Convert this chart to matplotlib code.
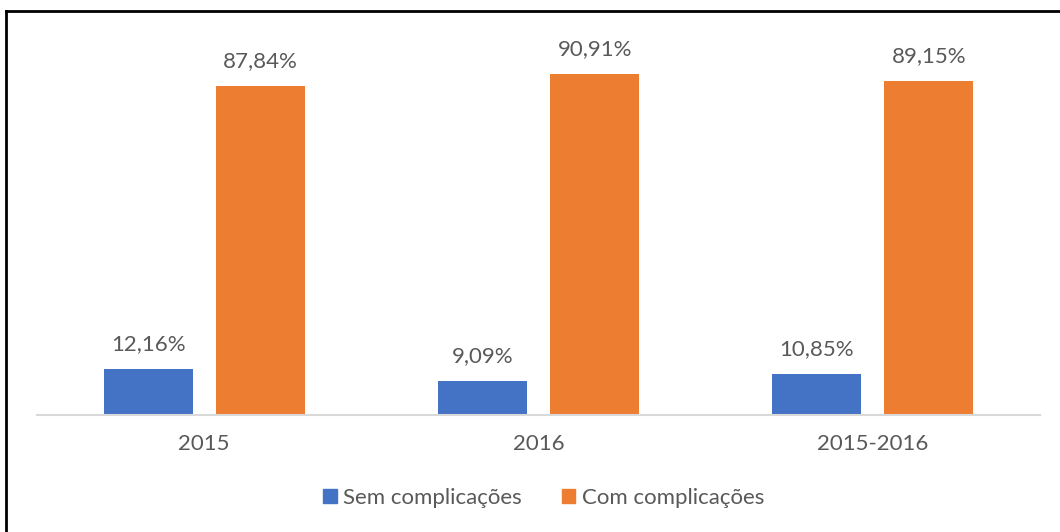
import numpy as np
from matplotlib import pyplot as plt
from matplotlib.lines import Line2D

categories = ["2015", "2016", "2015-2016"]
sem = [12.16, 9.09, 10.85]
com = [87.84, 90.91, 89.15]
series_names = ["Sem complicações", "Com complicações"]
colors = ["#4472C4", "#ED7D31"]

plt.rcParams['font.family'] = ['Lato', 'DejaVu Sans']
text_color = '#595959'

fig = plt.figure(figsize=(10.6, 5.32), dpi=100)
ax = fig.add_axes([0.035, 0.22, 0.946, 0.704])

x = np.arange(len(categories))
w = 0.266
off = 0.168
for vals, dx, c in [(sem, -off, colors[0]), (com, off, colors[1])]:
    bars = ax.bar(x + dx, vals, width=w, color=c)
    for b, v in zip(bars, vals):
        ax.annotate(f"{v:.2f}%".replace('.', ','),
                    (b.get_x() + b.get_width() / 2, b.get_height()),
                    xytext=(0, 11), textcoords='offset points',
                    ha='center', va='bottom', fontsize=16, color=text_color)

ax.set_xlim(-0.5, 2.5)
ax.set_ylim(0, 100)
ax.set_xticks(x)
ax.set_xticklabels(categories, fontsize=16, color=text_color)
ax.tick_params(axis='x', length=0, pad=14)
ax.set_yticks([])
for s in ['top', 'right', 'left']:
    ax.spines[s].set_visible(False)
ax.spines['bottom'].set_color('#D9D9D9')
ax.spines['bottom'].set_linewidth(1.5)

handles = [plt.Rectangle((0, 0), 1, 1, color=c) for c in colors]
leg = fig.legend(handles, series_names, loc='center', bbox_to_anchor=(0.513, 0.064),
                 ncol=2, frameon=False, fontsize=16, handlelength=0.6,
                 handleheight=0.6, handletextpad=0.3, columnspacing=1.8)
for t in leg.get_texts():
    t.set_color(text_color)

# frame: top and left edges only
fig.add_artist(Line2D([6 / 1060, 1], [1 - 11 / 532, 1 - 11 / 532],
                      transform=fig.transFigure, color='black', lw=2))
fig.add_artist(Line2D([6 / 1060, 6 / 1060], [0, 1 - 11 / 532],
                      transform=fig.transFigure, color='black', lw=2))

fig.savefig('out.png', dpi=100)
